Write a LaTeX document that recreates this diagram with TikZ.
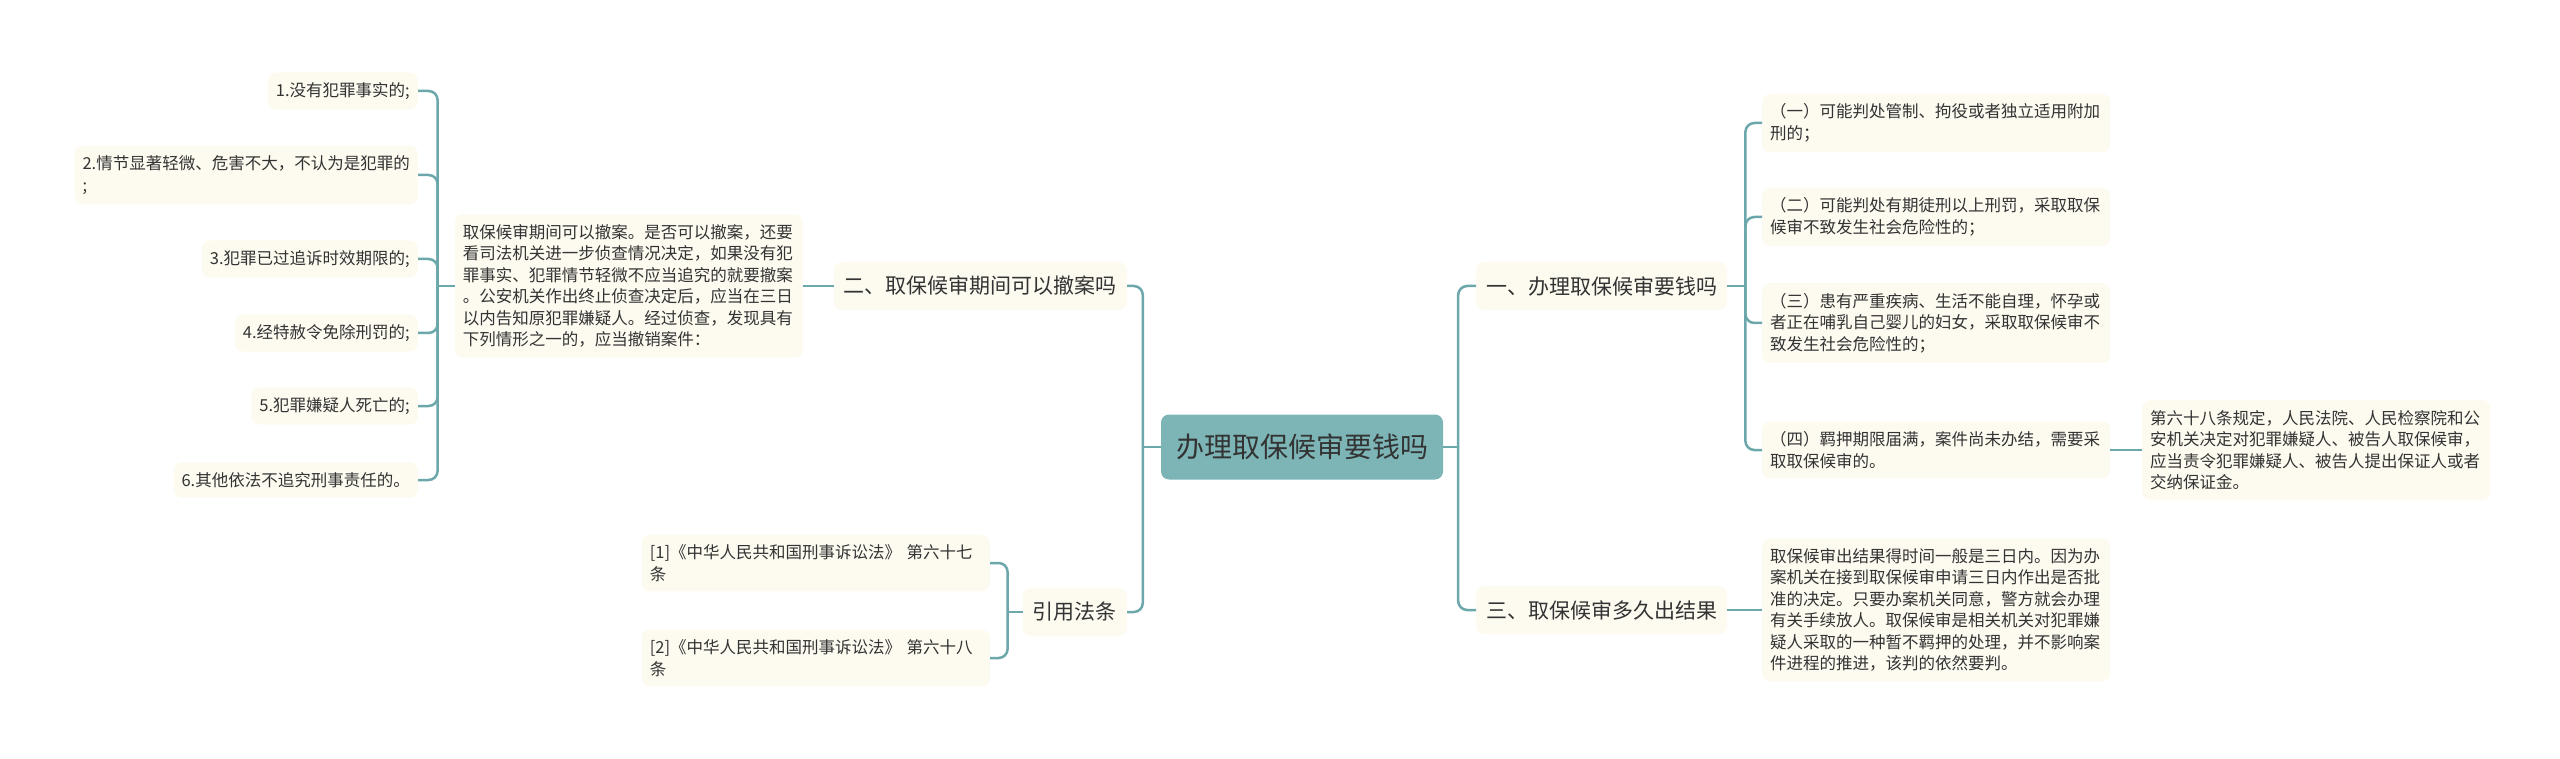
\documentclass[tikz,border=0pt]{standalone}
\usepackage{fontspec}
\setmainfont{Noto Sans CJK SC}
\usepackage{xcolor}
\usepackage{tikz}
\usetikzlibrary{positioning}

\definecolor{linkc}{HTML}{6CA8AB}
\definecolor{rootc}{HTML}{7DB5B7}
\definecolor{creamc}{HTML}{FDFAF0}
\definecolor{inkc}{HTML}{333333}

\begin{document}
\begin{tikzpicture}[x=1pt, y=-1pt,
  root/.style={
    rectangle, fill=rootc, rounded corners=8pt,
    minimum width=282pt, minimum height=65pt,
    font=\fontsize{28}{34}\selectfont, text=inkc},
  topic/.style={
    rectangle, fill=creamc, rounded corners=8pt,
    minimum height=48pt, inner xsep=10pt,
    font=\fontsize{21}{26}\selectfont, text=inkc},
  leaf/.style={
    rectangle, fill=creamc, rounded corners=8pt,
    text width=332pt, align=left, inner xsep=8pt, inner ysep=10pt,
    font=\fontsize{16.5}{21.5}\selectfont, text=inkc},
  item/.style={
    rectangle, fill=creamc, rounded corners=8pt,
    align=left, inner xsep=8pt, inner ysep=10pt,
    font=\fontsize{16.5}{21.5}\selectfont, text=inkc},
  link/.style={draw=linkc, line width=2.5pt, rounded corners=9pt}
]
\useasboundingbox (0,0) rectangle (2560,759);
% ── Root ──
\node[root] (R) at (1302,447) {办理取保候审要钱吗};
% ── Main branches ──
\node[topic, anchor=west] (B1) at (1476,286) {一、办理取保候审要钱吗};
\node[topic, anchor=east] (B2) at (1127,286) {二、取保候审期间可以撤案吗};
\node[topic, anchor=west] (B3) at (1476,610) {三、取保候审多久出结果};
\node[topic, anchor=east] (B4) at (1127,612) {引用法条};
% ── Branch one ──
\node[leaf, anchor=west] (A1) at (1762,123) {（一）可能判处管制、拘役或者独立适用附加\\刑的；};
\node[leaf, anchor=west] (A2) at (1762,217) {（二）可能判处有期徒刑以上刑罚，采取取保\\候审不致发生社会危险性的；};
\node[leaf, anchor=west] (A3) at (1762,323) {（三）患有严重疾病、生活不能自理，怀孕或\\者正在哺乳自己婴儿的妇女，采取取保候审不\\致发生社会危险性的；};
\node[leaf, anchor=west] (A4) at (1762,450) {（四）羁押期限届满，案件尚未办结，需要采\\取取保候审的。};
\node[leaf, anchor=west] (A5) at (2142,450) {第六十八条规定，人民法院、人民检察院和公\\安机关决定对犯罪嫌疑人、被告人取保候审，\\应当责令犯罪嫌疑人、被告人提出保证人或者\\交纳保证金。};
% ── Branch two ──
\node[leaf, anchor=east] (T2) at (803,286) {取保候审期间可以撤案。是否可以撤案，还要\\看司法机关进一步侦查情况决定，如果没有犯\\罪事实、犯罪情节轻微不应当追究的就要撤案\\。公安机关作出终止侦查决定后，应当在三日\\以内告知原犯罪嫌疑人。经过侦查，发现具有\\下列情形之一的，应当撤销案件：};
\node[item, anchor=east] (L1) at (418,91)  {1.没有犯罪事实的;};
\node[item, anchor=east] (L2) at (418,175) {2.情节显著轻微、危害不大，不认为是犯罪的\\;};
\node[item, anchor=east] (L3) at (418,259) {3.犯罪已过追诉时效期限的;};
\node[item, anchor=east] (L4) at (418,333) {4.经特赦令免除刑罚的;};
\node[item, anchor=east] (L5) at (418,406) {5.犯罪嫌疑人死亡的;};
\node[item, anchor=east] (L6) at (418,480) {6.其他依法不追究刑事责任的。};
% ── Branch three ──
\node[leaf, anchor=west] (T3) at (1762,610) {取保候审出结果得时间一般是三日内。因为办\\案机关在接到取保候审申请三日内作出是否批\\准的决定。只要办案机关同意，警方就会办理\\有关手续放人。取保候审是相关机关对犯罪嫌\\疑人采取的一种暂不羁押的处理，并不影响案\\件进程的推进，该判的依然要判。};
% ── Citations ──
\node[leaf, anchor=east] (C1) at (990,563) {[1]《中华人民共和国刑事诉讼法》 第六十七\\条};
\node[leaf, anchor=east] (C2) at (990,658) {[2]《中华人民共和国刑事诉讼法》 第六十八\\条};
% ── Root links ──
\draw[link] (R.west) -- ++(-18,0);
\foreach \b in {B2,B4} \draw[link] ([xshift=-18pt]R.west) |- (\b.east);
\draw[link] (R.east) -- ++(15,0);
\foreach \b in {B1,B3} \draw[link] ([xshift=15pt]R.east) |- (\b.west);
% ── Branch links ──
\draw[link] (B1.east) -- ++(18,0);
\foreach \c in {A1,A2,A3,A4} \draw[link] ([xshift=18pt]B1.east) |- (\c.west);
\draw[link] (A4.east) -- (A5.west);
\draw[link] (B2.west) -- (T2.east);
\draw[link] (T2.west) -- ++(-17,0);
\foreach \c in {L1,L2,L3,L4,L5,L6} \draw[link] ([xshift=-17pt]T2.west) |- (\c.east);
\draw[link] (B3.east) -- (T3.west);
\draw[link] (B4.west) -- ++(-15,0);
\foreach \c in {C1,C2} \draw[link] ([xshift=-15pt]B4.west) |- (\c.east);
\end{tikzpicture}
\end{document}
